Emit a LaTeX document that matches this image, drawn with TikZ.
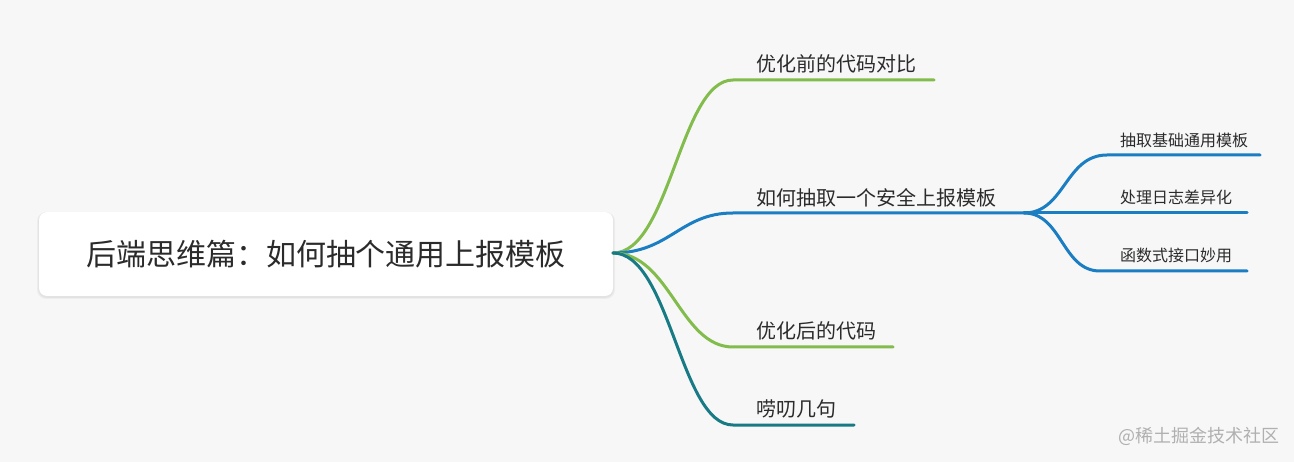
\documentclass[tikz,border=0pt]{standalone}
\usepackage{fontspec}
\setmainfont{Noto Sans CJK SC}
\definecolor{bgc}{HTML}{F7F7F7}
\definecolor{txt}{HTML}{2B2B2B}
\definecolor{grn}{HTML}{82BC4C}
\definecolor{blu}{HTML}{1B7DC2}
\definecolor{teal}{HTML}{177A84}
\definecolor{wm}{HTML}{B0B0B0}
\tikzset{
  rootbox/.style={draw=none,fill=white,rounded corners=8pt,minimum width=574pt,minimum height=84pt,inner sep=0pt,text=txt,font=\fontsize{30}{36}\selectfont},
  mainlbl/.style={anchor=west,inner sep=0pt,text=txt,font=\fontsize{20}{24}\selectfont},
  sublbl/.style={anchor=west,inner sep=0pt,text=txt,font=\fontsize{16}{19}\selectfont},
  branch/.style={line width=3pt,line cap=round},
}
\begin{document}
\begin{tikzpicture}[x=1pt,y=-1pt]
\fill[bgc] (0,0) rectangle (1294,462);
\useasboundingbox (0,0) rectangle (1294,462);
% shadow
\fill[black,opacity=0.04,rounded corners=9pt] (37,212) rectangle (615,299);
\fill[black,opacity=0.04,rounded corners=9pt] (38,212) rectangle (614,298);
\node[rootbox] (root) at (326,254) {后端思维篇：如何抽个通用上报模板};
\coordinate (r) at (613,253);
% branch 1
\coordinate (b1s) at (733,80);
\coordinate (b1e) at (934,80);
\draw[branch,grn] (r) .. controls (670,253) and (680,80) .. (b1s) -- (b1e);
\node[mainlbl] (l1) at (756,64) {优化前的代码对比};
% branch 2
\coordinate (b2s) at (733,213);
\coordinate (b2e) at (1024,213);
\draw[branch,blu] (r) .. controls (670,253) and (680,213) .. (b2s) -- (b2e);
\node[mainlbl] (l2) at (756,198) {如何抽取一个安全上报模板};
% sub branches
\coordinate (s1s) at (1107,155);
\coordinate (s1e) at (1260,155);
\coordinate (s2e) at (1247,213);
\coordinate (s3s) at (1100,271);
\coordinate (s3e) at (1247,271);
\draw[branch,blu] (b2e) .. controls (1065,213) and (1065,155) .. (s1s) -- (s1e);
\draw[branch,blu] (b2e) -- (s2e);
\draw[branch,blu] (b2e) .. controls (1062,213) and (1062,271) .. (s3s) -- (s3e);
\node[sublbl] (t1) at (1120,140) {抽取基础通用模板};
\node[sublbl] (t2) at (1120,197) {处理日志差异化};
\node[sublbl] (t3) at (1120,255) {函数式接口妙用};
% branch 3
\coordinate (b3s) at (733,347);
\coordinate (b3e) at (893,347);
\draw[branch,grn] (r) .. controls (670,253) and (680,347) .. (b3s) -- (b3e);
\node[mainlbl] (l3) at (756,331) {优化后的代码};
% branch 4
\coordinate (b4s) at (733,425);
\coordinate (b4e) at (854,425);
\draw[branch,teal] (r) .. controls (670,253) and (680,425) .. (b4s) -- (b4e);
\node[mainlbl] (l4) at (756,409) {唠叨几句};
% watermark
\node[anchor=west,inner sep=0pt,text=wm,font=\fontsize{18}{21}\selectfont] (wmk) at (1118,436) {@稀土掘金技术社区};
\end{tikzpicture}
\end{document}
